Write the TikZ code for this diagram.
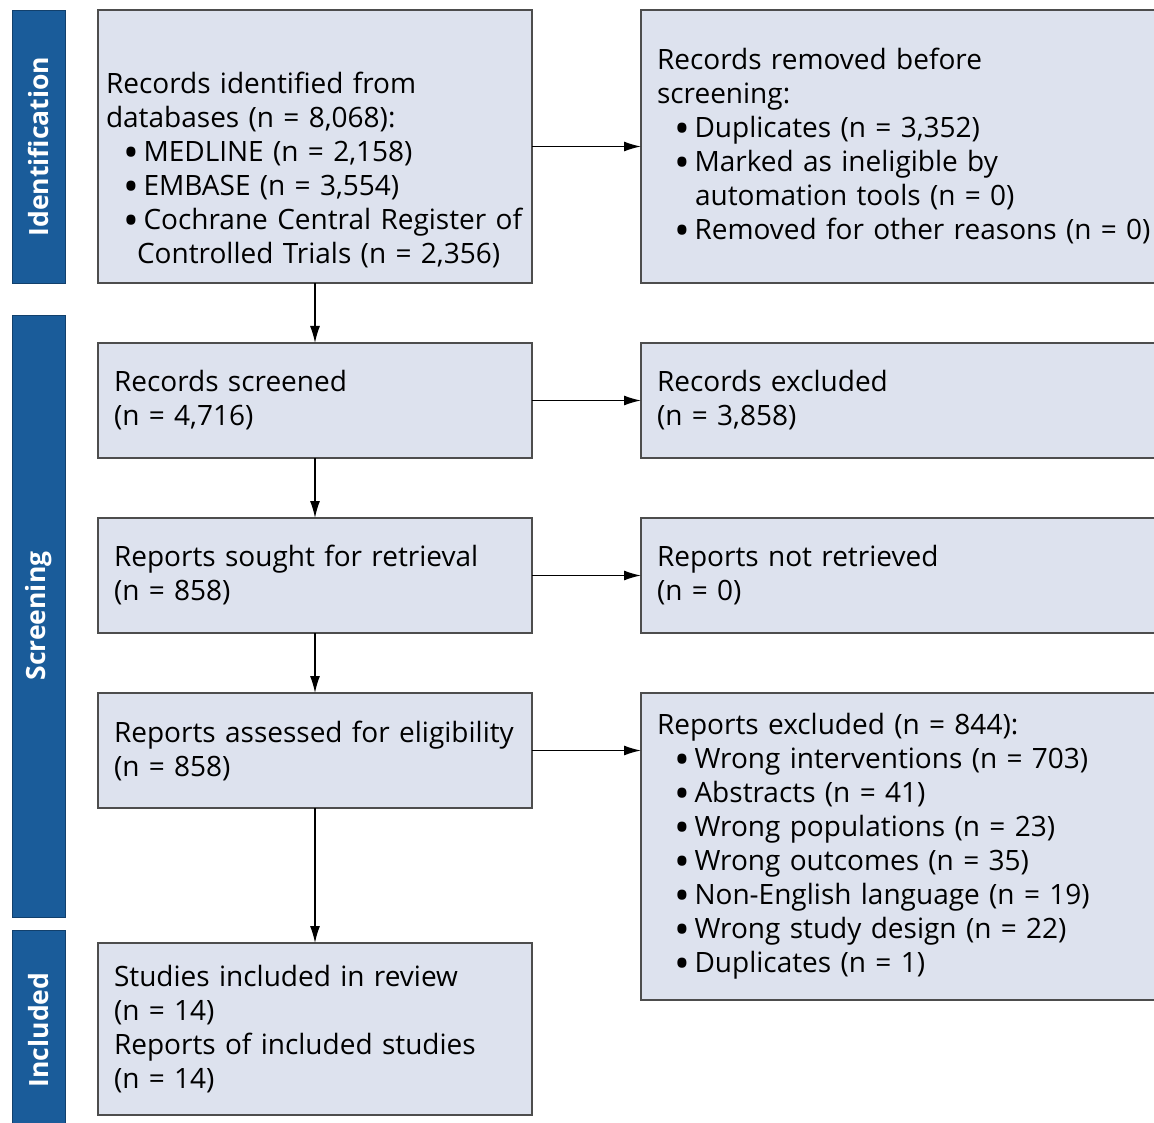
\documentclass[tikz,border=0pt]{standalone}
\usepackage{fontspec}
\setmainfont{Open Sans}
\usetikzlibrary{arrows.meta,positioning}
\definecolor{phaseblue}{HTML}{1A5C9A}
\definecolor{boxfill}{HTML}{DDE2EE}
\definecolor{boxline}{HTML}{4D4D4D}
\newcommand{\itm}[1]{\hspace*{17.5pt}\makebox[20pt][l]{\raisebox{-0.2em}{\scalebox{1.5}{•}}}\mbox{#1}}

\begin{document}
\begin{tikzpicture}[
        x=1pt, y=-1pt,
        >={Latex[length=17pt,width=10pt]},
        font=\fontsize{28}{34}\selectfont,
        stage/.style={draw=boxline, fill=boxfill, line width=1.4pt, rectangle, align=left, inner xsep=16pt, inner ysep=0pt, outer sep=0pt},
        leftbox/.style={stage, text width=402pt},
        rightbox/.style={stage, text width=520pt},
        phase/.style={draw=phaseblue!70!black, fill=phaseblue, text=white, rotate=90, minimum height=53pt, outer sep=0pt, font=\fontsize{26.5}{30}\selectfont\bfseries},
        flow/.style={->, line width=1.4pt}
    ]
        \useasboundingbox (0,0) rectangle (1154,1123);

        % Left column
        \node (ident) [leftbox, anchor=north west, minimum height=273pt, inner xsep=8pt, text width=418pt] at (98,10)
            {\rule{0pt}{69pt}Records identified from\\
             databases (n = 8,068):\\
             \itm{MEDLINE (n = 2,158)}\\
             \itm{EMBASE (n = 3,554)}\\
             \itm{Cochrane Central Register of}\\
             \hspace*{31pt}\mbox{Controlled Trials (n = 2,356)}};
        \node (screened) [leftbox, minimum height=115pt, below=60pt of ident] {Records screened\\(n = 4,716)};
        \node (sought) [leftbox, minimum height=115pt, below=60pt of screened] {Reports sought for retrieval\\(n = 858)};
        \node (assessed) [leftbox, minimum height=115pt, below=60pt of sought] {Reports assessed for eligibility\\(n = 858)};
        \node (included) [leftbox, minimum height=172pt, below=135pt of assessed]
            {Studies included in review\\(n = 14)\\Reports of included studies\\(n = 14)};

        % Right column
        \node (removed) [rightbox, minimum height=273pt, right=109pt of ident.north east, anchor=north west]
            {Records removed before\\
             screening:\\
             \itm{Duplicates (n = 3,352)}\\
             \itm{Marked as ineligible by}\\
             \hspace*{38pt}automation tools (n = 0)\\
             \itm{Removed for other reasons (n = 0)}};
        \node (excluded) [rightbox, minimum height=115pt, right=109pt of screened.north east, anchor=north west] {Records excluded\\(n = 3,858)};
        \node (notretr) [rightbox, minimum height=115pt, right=109pt of sought.north east, anchor=north west] {Reports not retrieved\\(n = 0)};
        \node (repexcl) [rightbox, minimum height=307pt, right=109pt of assessed.north east, anchor=north west]
            {Reports excluded (n = 844):\\
             \itm{Wrong interventions (n = 703)}\\
             \itm{Abstracts (n = 41)}\\
             \itm{Wrong populations (n = 23)}\\
             \itm{Wrong outcomes (n = 35)}\\
             \itm{Non-English language (n = 19)}\\
             \itm{Wrong study design (n = 22)}\\
             \itm{Duplicates (n = 1)}};

        % Phase bars
        \node (bar_ident) [phase, minimum width=273pt] at (38.5,146.5) {Identification};
        \node (bar_screen) [phase, minimum width=602pt] at (38.5,616) {Screening};
        \node (bar_incl) [phase, minimum width=200pt] at (38.5,1030) {Included};

        % Connections
        \draw[flow] (ident) -- (screened);
        \draw[flow] (screened) -- (sought);
        \draw[flow] (sought) -- (assessed);
        \draw[flow] (assessed) -- (included);
        \draw[flow] (ident) -- (removed);
        \draw[flow] (screened) -- (excluded);
        \draw[flow] (sought) -- (notretr);
        \draw[flow] (assessed.east) -- (assessed.east -| repexcl.west);
    \end{tikzpicture}
\end{document}
